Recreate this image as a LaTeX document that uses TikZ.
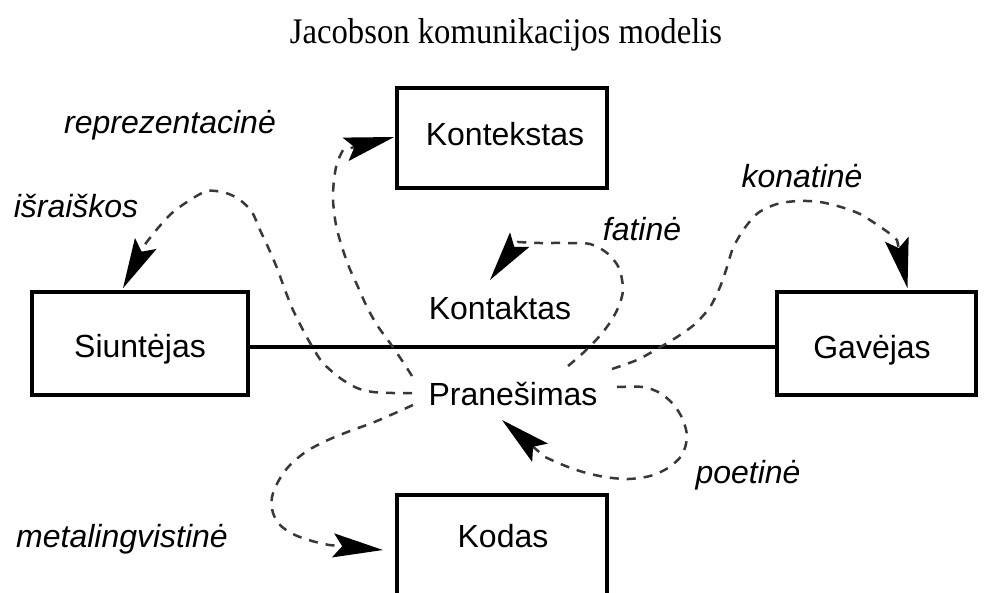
\documentclass[tikz,border=0pt]{standalone}
\usepackage{fontspec}
\setmainfont{Liberation Serif}
\newfontfamily\labelsans{Liberation Sans}
\usetikzlibrary{arrows.meta,calc}

\tikzset{
  frame/.style={draw, line width=3.6pt, inner sep=0pt},
  boxtext/.style={font=\labelsans\fontsize{32}{32}\selectfont, anchor=base, inner sep=0pt},
  fnlabel/.style={font=\labelsans\itshape\fontsize{32}{32}\selectfont, anchor=base, inner sep=0pt},
  flow/.style={draw=black!78, line width=2.5pt, dash pattern=on 9pt off 8pt,
    -{Stealth[length=50pt,width=24pt,inset=9pt,color=black]}},
  link/.style={draw, line width=3.2pt}
}

\begin{document}
\begin{tikzpicture}[x=1pt,y=-1pt]
\useasboundingbox (0,0) rectangle (987,592);
\clip (0,0) rectangle (987,592);

% title
\node[anchor=base, inner sep=0pt] (title) at (506,43)
  {\scalebox{1}[1.1]{\fontsize{32.7}{33}\selectfont Jacobson komunikacijos modelis}};

% the four boxes
\node[frame, minimum width=210pt, minimum height=100pt] (kont) at (502,138) {};
\node[frame, minimum width=216pt, minimum height=103pt] (siun) at (140,343.5) {};
\node[frame, minimum width=199pt, minimum height=103pt] (gav)  at (876.5,343.5) {};
\node[frame, minimum width=210pt, minimum height=125pt] (kod)  at (502,557.5) {};

% box captions and middle words
\node[boxtext] (tkont) at (505,145) {Kontekstas};
\node[boxtext] (tsiun) at (140,357) {Siuntėjas};
\node[boxtext] (tgav)  at (872,358) {Gavėjas};
\node[boxtext] (tkod)  at (503,547) {Kodas};
\node[boxtext] (kontakt) at (500,319) {Kontaktas};
\node[boxtext] (pran) at (513,405) {Pranešimas};

% sender -- receiver line
\draw[link] (siun.east |- 0,347) -- (gav.west |- 0,347);

% function labels
\node[fnlabel] (lrep)  at (170,133) {reprezentacinė};
\node[fnlabel] (lisr)  at (76,217)  {išraiškos};
\node[fnlabel] (lfat)  at (642,240) {fatinė};
\node[fnlabel] (lkon)  at (802,187) {konatinė};
\node[fnlabel] (lpoe)  at (748,483) {poetinė};
\node[fnlabel] (lmet)  at (122,547) {metalingvistinė};

% start and end points of the function arrows
\coordinate (sIsr) at (412,393);
\coordinate (sRep) at (412,376);
\coordinate (sFat) at (568,366);
\coordinate (sKon) at (612,369);
\coordinate (sPoe) at (617,387);
\coordinate (sMet) at (413,405);
\coordinate (eIsr) at ($(siun.north)+(-17,-2)$);
\coordinate (eRep) at ($(kont.west)+(-1,-1)$);
\coordinate (eFat) at (490,280);
\coordinate (eKon) at ($(gav.north)+(31,-2)$);
\coordinate (ePoe) at (502,420);
\coordinate (eMet) at (383,550);

% expressive function
\draw[flow] plot[smooth] coordinates {(sIsr) (393,393) (373,392) (357,388) (340,378)
  (323,363) (313,348) (303,330) (293,310) (285,290) (277,268) (268,247) (260,230)
  (252,212) (240,200) (226,193) (207,191) (187,202) (172,213) (158,228) (146,243)} -- (eIsr);

% referential function
\draw[flow] plot[smooth] coordinates {(sRep) (403,362) (390,343) (377,325) (367,307)
  (358,287) (349,267) (342,247) (336,225) (333,200) (334,180) (337,163) (343,150)} -- (eRep);

% phatic function
\draw[flow] plot[smooth] coordinates {(sFat) (583,353) (597,339) (609,324) (618,308)
  (623,290) (619,268) (607,253) (590,244) (565,243) (540,243) (518,242)} -- (eFat);

% conative function
\draw[flow] plot[smooth] coordinates {(sKon) (637,360) (657,349) (677,337) (695,324)
  (710,307) (720,287) (727,267) (733,248) (744,229) (758,213) (777,204) (798,201)
  (820,202) (841,207) (860,214) (876,224) (889,233) (897,240)} -- (eKon);

% poetic function
\draw[flow] plot[smooth] coordinates {(sPoe) (643,387) (660,393) (674,405) (683,420)
  (687,437) (682,455) (668,468) (650,476) (628,479) (605,477) (583,472) (563,465)
  (545,457)} -- (ePoe);

% metalingual function
\draw[flow] plot[smooth] coordinates {(sMet) (393,414) (372,423) (350,431) (328,440)
  (307,451) (290,465) (279,480) (272,497) (273,513) (281,526) (295,535) (312,541)
  (329,545)} -- (eMet);
\end{tikzpicture}
\end{document}
